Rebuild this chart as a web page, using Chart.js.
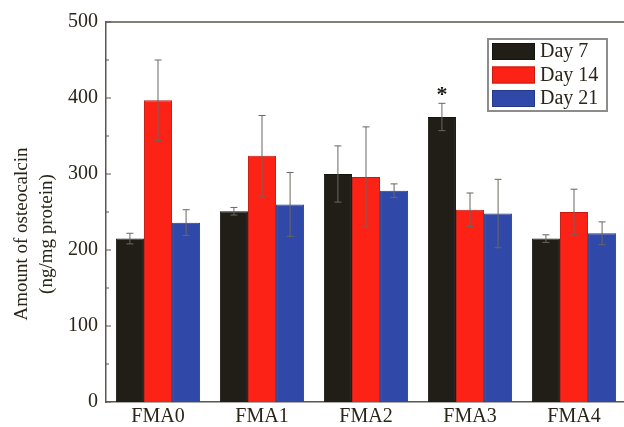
<!DOCTYPE html>
<html>
<head>
<meta charset="utf-8">
<script src="https://cdn.jsdelivr.net/npm/chart.js@4.4.0/dist/chart.umd.min.js"></script>
<style>
  html, body { margin: 0; padding: 0; background: #fff; overflow: hidden; }
  #wrap { position: relative; width: 640px; height: 427px; }
</style>
</head>
<body>
<div id="wrap"><canvas id="osteoChart"></canvas></div>
<script>
// values
const categories = ['FMA0', 'FMA1', 'FMA2', 'FMA3', 'FMA4'];
const seriesNames = ['Day 7', 'Day 14', 'Day 21'];
const day7 = [215, 251, 300, 375, 215];
const day7Err = [7, 5, 37, 18, 5];
const day14 = [397, 324, 296, 253, 250];
const day14Err = [53, 53, 66, 22, 30];
const day21 = [236, 260, 278, 248, 222];
const day21Err = [17, 42, 9, 45, 15];
const day7Marks = ['', '', '', '*', ''];
const yTicks = [0, 100, 200, 300, 400, 500];

const textColor = '#2b2419';
const axisColor = '#5a5650';
const fontFamily = "'Liberation Serif', 'DejaVu Serif', serif";

// error bars, star, inward ticks, top frame line and legend box
const extrasPlugin = {
    id: 'extras',
    afterDatasetsDraw(chart) {
        const ctx = chart.ctx;
        const area = chart.chartArea;
        const yScale = chart.scales.y;
        const errs = [day7Err, day14Err, day21Err];

        ctx.save();
        ctx.strokeStyle = '#6b6660';
        ctx.lineWidth = 1;
        chart.data.datasets.forEach(function(ds, i) {
            const meta = chart.getDatasetMeta(i);
            meta.data.forEach(function(bar, j) {
                const v = ds.data[j];
                const e = errs[i][j];
                const yTop = yScale.getPixelForValue(v + e);
                const yBot = yScale.getPixelForValue(v - e);
                ctx.beginPath();
                ctx.moveTo(bar.x, yTop);
                ctx.lineTo(bar.x, yBot);
                ctx.moveTo(bar.x - 3.5, yTop);
                ctx.lineTo(bar.x + 3.5, yTop);
                ctx.moveTo(bar.x - 3.5, yBot);
                ctx.lineTo(bar.x + 3.5, yBot);
                ctx.stroke();
            });
        });

        // significance star
        const meta0 = chart.getDatasetMeta(0);
        ctx.fillStyle = '#1c1a16';
        ctx.font = "bold 22px " + fontFamily;
        ctx.textAlign = 'center';
        ctx.textBaseline = 'middle';
        day7Marks.forEach(function(m, j) {
            if (!m) return;
            const bar = meta0.data[j];
            const y = yScale.getPixelForValue(day7[j] + day7Err[j]) - 13;
            ctx.fillText(m, bar.x, y + 5);
        });

        // top frame line
        ctx.strokeStyle = axisColor;
        ctx.lineWidth = 1.5;
        ctx.beginPath();
        ctx.moveTo(area.left, area.top);
        ctx.lineTo(area.right, area.top);
        ctx.stroke();

        // inward ticks on the left axis
        ctx.lineWidth = 1;
        for (let v = 0; v <= 500; v += 50) {
            const y = yScale.getPixelForValue(v);
            const len = v % 100 === 0 ? 5 : 3;
            ctx.beginPath();
            ctx.moveTo(area.left, y);
            ctx.lineTo(area.left + len, y);
            ctx.stroke();
        }

        // y axis title, two lines
        ctx.fillStyle = textColor;
        ctx.font = "19px " + fontFamily;
        ctx.textAlign = 'center';
        ctx.textBaseline = 'middle';
        const cy = (area.top + area.bottom) / 2 + 22;
        ctx.translate(22, cy);
        ctx.rotate(-Math.PI / 2);
        ctx.fillText('Amount of osteocalcin', 0, 0);
        ctx.fillText('(ng/mg protein)', 0, 25);
        ctx.setTransform(1, 0, 0, 1, 0, 0);

        // legend box
        const bx = area.right - 138, by = area.top + 17, bw = 119, bh = 72;
        ctx.fillStyle = '#ffffff';
        ctx.fillRect(bx, by, bw, bh);
        ctx.strokeStyle = '#8c8c8c';
        ctx.lineWidth = 2;
        ctx.strokeRect(bx, by, bw, bh);
        ctx.font = "20px " + fontFamily;
        ctx.textAlign = 'left';
        ctx.textBaseline = 'middle';
        chart.data.datasets.forEach(function(ds, i) {
            const sy = by + 4 + i * 23.5;
            ctx.fillStyle = ds.backgroundColor;
            ctx.fillRect(bx + 4, sy, 43, 17);
            ctx.strokeStyle = ds.borderColor;
            ctx.lineWidth = 1;
            ctx.strokeRect(bx + 4.5, sy + 0.5, 42, 16);
            ctx.fillStyle = textColor;
            ctx.fillText(ds.label, bx + 52, sy + 9);
        });
        ctx.restore();
    }
};

const ctx = document.getElementById('osteoChart').getContext('2d');
new Chart(ctx, {
    type: 'bar',
    data: {
        labels: categories,
        datasets: [{
            label: seriesNames[0],
            data: day7,
            backgroundColor: '#201e17',
            borderColor: '#15130e',
            borderWidth: 1
        }, {
            label: seriesNames[1],
            data: day14,
            backgroundColor: '#fd2216',
            borderColor: '#c41a10',
            borderWidth: 1
        }, {
            label: seriesNames[2],
            data: day21,
            backgroundColor: '#3049a8',
            borderColor: '#243a88',
            borderWidth: 1
        }]
    },
    options: {
        responsive: true,
        maintainAspectRatio: false,
        animation: false,
        layout: { padding: { top: 22, right: 14, left: 0, bottom: 0 } },
        datasets: {
            bar: { categoryPercentage: 0.81, barPercentage: 1.0 }
        },
        plugins: {
            legend: { display: false },
            tooltip: { enabled: false }
        },
        scales: {
            x: {
                grid: { display: false, drawTicks: false },
                border: { display: true, color: axisColor, width: 1.5 },
                ticks: { color: textColor, font: { family: fontFamily, size: 20 }, padding: 3 },
                afterFit: function(scale) { scale.height = 25; }
            },
            y: {
                min: 0,
                max: 500,
                grid: { display: false, drawTicks: false },
                border: { display: true, color: axisColor, width: 1.5 },
                afterBuildTicks: function(scale) {
                    scale.ticks = yTicks.map(function(v) { return { value: v }; });
                },
                ticks: { color: textColor, font: { family: fontFamily, size: 20 }, padding: 8 },
                afterFit: function(scale) { scale.width = 106; }
            }
        }
    },
    plugins: [extrasPlugin]
});
</script>
</body>
</html>
